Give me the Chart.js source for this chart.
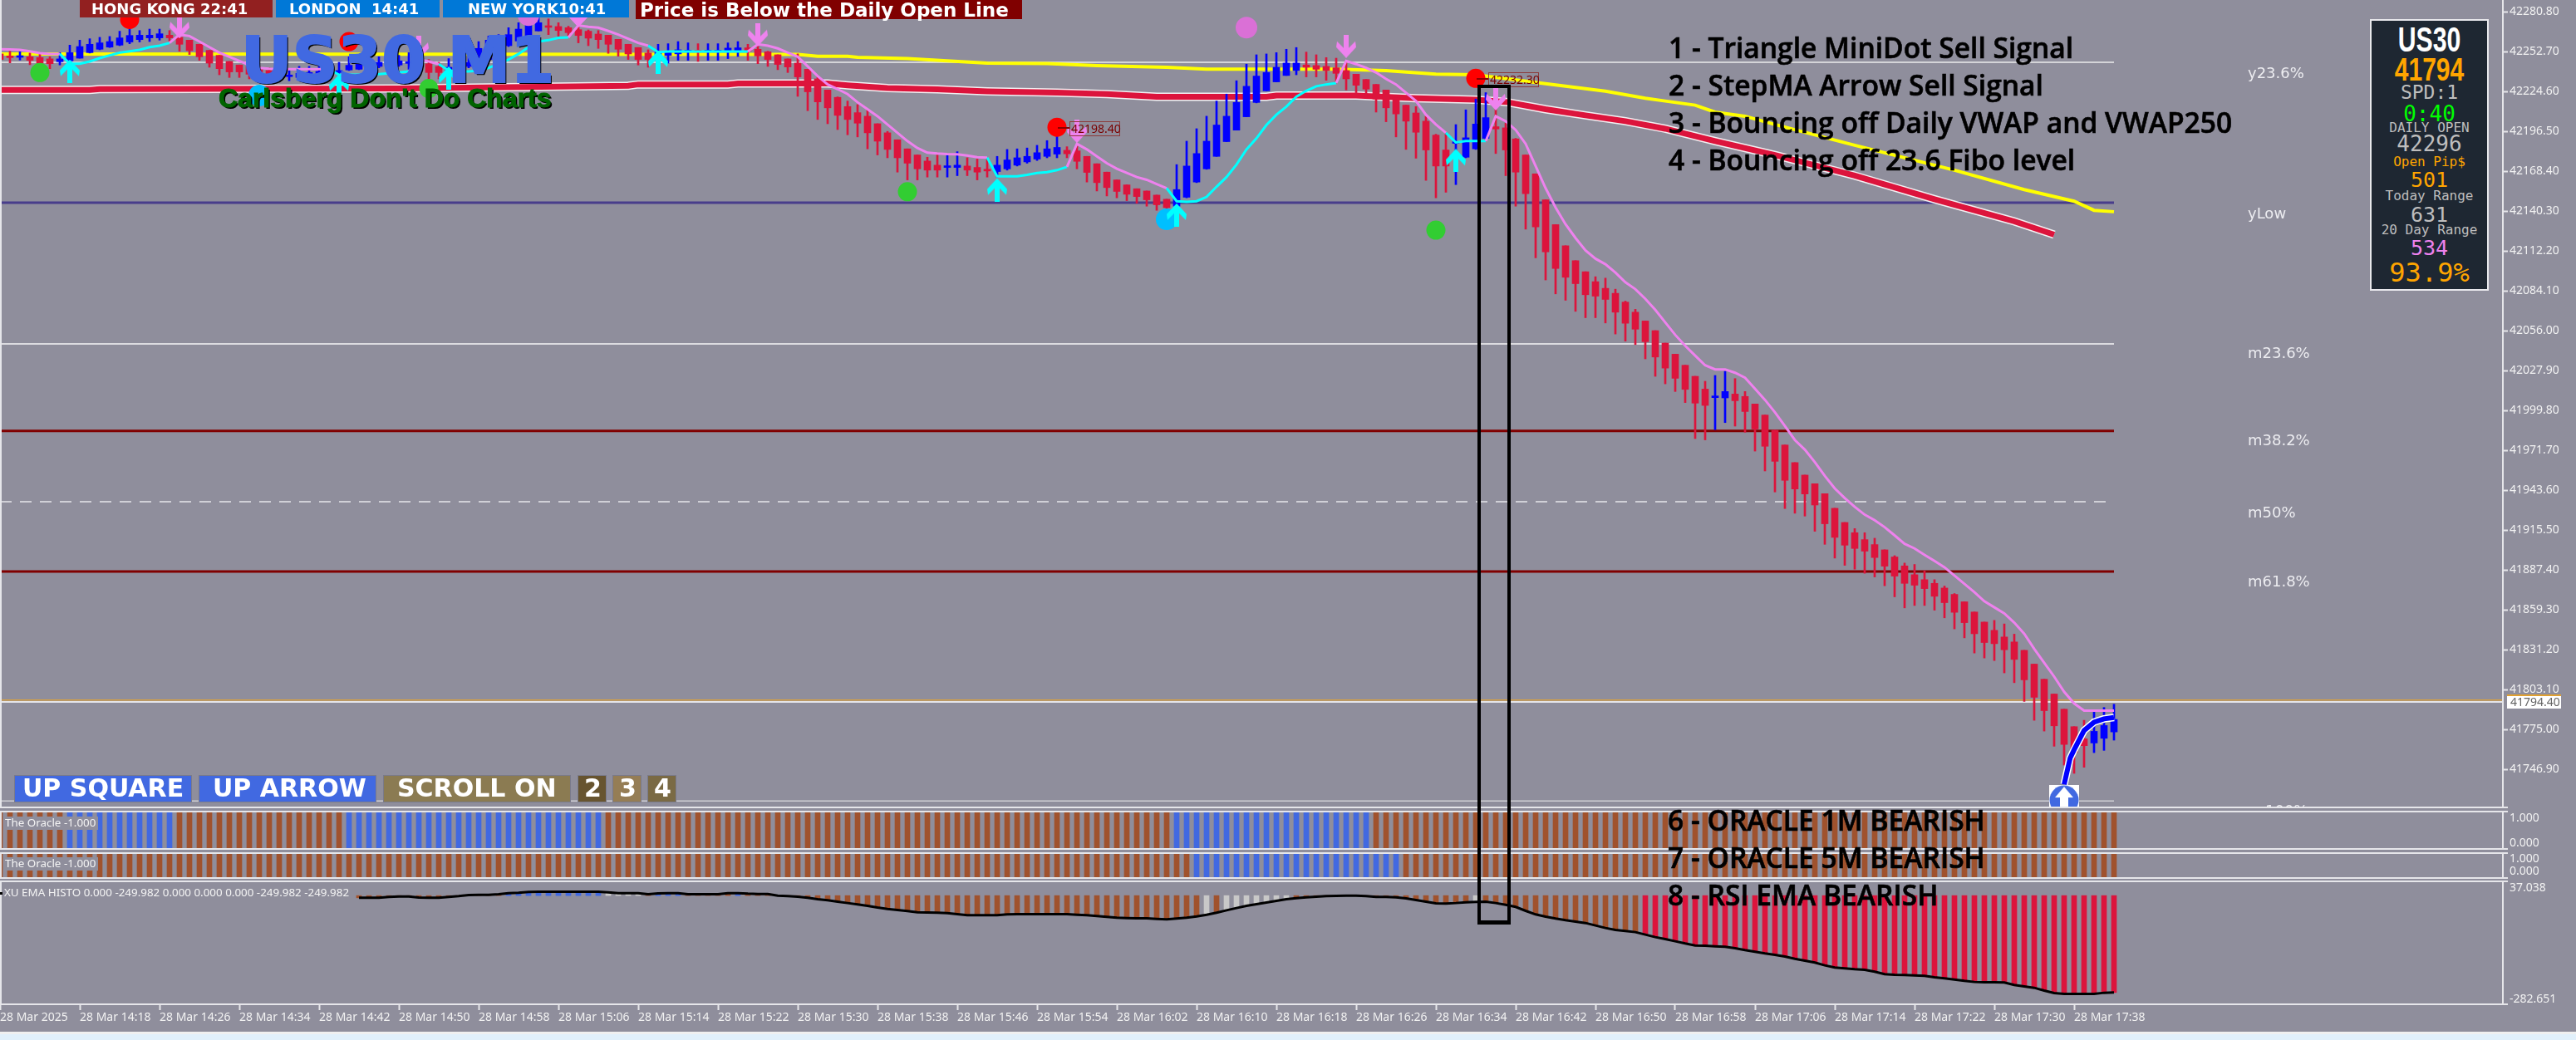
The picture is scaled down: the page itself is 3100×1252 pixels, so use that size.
<!DOCTYPE html>
<html>
<head>
<meta charset="utf-8">
<title>US30 M1</title>
<script src="https://cdn.jsdelivr.net/npm/chart.js@4"></script>
<style>
    body { margin: 0; width: 3100px; height: 1252px; background: #8f8e9c; position: relative; overflow: hidden; }
    canvas { position: absolute; left: 0; }
    .t { position: absolute; white-space: pre; line-height: 1; }
</style>
</head>
<body>
<script>
// Candles, one per minute from 14:10
const opens = [
    42251.0,42249.0,42248.6,42249.0,42248.4,42247.5,42245.5,42246.1,42248.0,42251.9,
    42254.3,42255.8,42257.2,42259.4,42261.1,42262.3,42262.3,42264.2,42262.7,42260.7,
    42257.8,42253.5,42250.0,42245.7,42243.2,42242.2,42240.2,42239.3,42238.7,42235.0,
    42234.4,42234.8,42236.7,42237.3,42237.9,42239.7,42240.2,42241.2,42242.2,42243.2,
    42243.2,42244.3,42247.1,42244.1,42242.2,42239.3,42240.2,42242.2,42243.2,42247.1,
    42255.8,42256.8,42260.1,42263.6,42267.2,42270.5,42270.3,42269.5,42268.1,42267.0,
    42265.0,42264.2,42261.3,42257.8,42255.5,42251.6,42250.6,42250.0,42251.0,42252.5,
    42253.1,42252.5,42252.5,42253.1,42253.1,42255.3,42254.3,42252.5,42250.4,42247.5,
    42244.5,42240.2,42233.4,42225.6,42220.4,42213.9,42209.6,42207.1,42201.8,42195.4,
    42190.5,42184.1,42179.8,42175.5,42172.6,42171.0,42171.0,42172.0,42171.0,42169.7,
    42168.1,42170.0,42172.6,42174.9,42176.9,42178.8,42180.4,42183.1,42182.7,42178.8,
    42173.6,42167.7,42162.2,42158.7,42156.0,42154.4,42151.5,42148.6,42143.7,42150.0,
    42160.7,42170.0,42178.8,42189.2,42197.3,42206.7,42216.8,42225.0,42231.3,42235.8,
    42239.3,42243.2,42242.8,42242.2,42241.2,42239.3,42236.7,42233.0,42229.5,42225.6,
    42219.8,42214.9,42209.4,42203.6,42193.8,42183.3,42188.0,42178.2,42184.1,42191.5,
    42199.7,42198.9,42191.1,42179.8,42166.5,42148.2,42130.7,42115.8,42105.3,42097.5,
    42090.5,42085.8,42082.3,42076.1,42069.0,42062.8,42056.0,42047.2,42039.4,42031.6,
    42023.8,42014.8,42008.8,42008.6,42011.3,42009.6,42004.3,41996.5,41985.8,41975.4,
    41963.0,41954.2,41948.1,41941.1,41930.8,41920.8,41913.6,41908.7,41905.2,41901.5,
    41896.5,41890.2,41884.0,41880.5,41877.9,41874.6,41870.1,41864.9,41857.7,41850.6,
    41844.8,41840.1,41836.6,41830.7,41821.0,41810.3,41799.9,41789.2,41776.9,41768.3,
    41765.4,41768.7,41773.2
];
const highs = [
    42252.9,42252.9,42252.5,42251.6,42251.0,42249.0,42251.9,42257.2,42260.7,42261.7,
    42262.7,42263.3,42267.0,42269.5,42267.5,42268.5,42268.5,42267.5,42267.5,42260.7,
    42257.8,42253.5,42250.0,42245.7,42243.2,42242.2,42242.2,42241.2,42240.2,42239.3,
    42242.2,42242.2,42242.2,42243.8,42245.1,42249.0,42250.0,42247.1,42249.0,42250.0,
    42250.0,42251.9,42249.0,42247.1,42245.1,42247.7,42248.0,42251.9,42259.7,42263.6,
    42264.6,42269.5,42273.0,42277.3,42277.3,42275.7,42273.0,42270.5,42271.4,42267.9,
    42267.5,42264.2,42261.3,42257.8,42255.5,42253.9,42257.8,42258.2,42259.7,42258.8,
    42258.2,42258.2,42258.2,42258.8,42259.7,42257.8,42257.8,42252.9,42250.4,42247.5,
    42251.0,42240.2,42235.4,42225.6,42220.7,42217.8,42215.3,42212.0,42201.8,42196.4,
    42190.5,42184.1,42179.8,42178.2,42179.8,42179.4,42182.1,42177.8,42176.9,42176.9,
    42178.8,42183.7,42184.1,42184.7,42186.6,42189.9,42193.4,42185.6,42186.6,42178.8,
    42173.6,42167.7,42162.2,42158.7,42156.0,42154.4,42151.5,42148.6,42173.0,42189.5,
    42198.3,42207.1,42217.8,42222.7,42232.1,42243.8,42250.4,42251.0,42251.9,42254.3,
    42255.5,42252.3,42250.4,42248.4,42248.0,42246.1,42236.7,42233.0,42229.5,42225.6,
    42219.8,42214.9,42213.9,42207.1,42194.4,42195.4,42201.2,42211.6,42219.2,42223.7,
    42212.0,42202.2,42191.5,42179.8,42166.5,42148.2,42130.7,42115.8,42105.3,42097.5,
    42094.0,42093.0,42085.2,42076.8,42071.0,42062.8,42056.0,42047.2,42039.4,42031.6,
    42023.8,42020.3,42024.4,42027.3,42022.2,42013.1,42004.3,41996.5,41985.8,41975.4,
    41963.0,41954.2,41948.1,41941.1,41930.8,41920.8,41916.5,41913.6,41909.7,41901.5,
    41897.4,41892.2,41891.2,41886.7,41880.5,41876.0,41870.7,41864.9,41857.7,41850.6,
    41851.8,41849.3,41842.1,41830.7,41821.0,41810.3,41799.9,41789.2,41776.9,41781.4,
    41787.3,41790.4,41792.7
];
const lows = [
    42247.1,42244.7,42246.7,42243.4,42241.2,42240.6,42243.2,42245.1,42248.0,42251.6,
    42253.9,42255.5,42256.8,42258.2,42259.4,42259.7,42260.7,42260.1,42252.9,42250.6,
    42246.5,42241.6,42236.3,42234.4,42234.4,42233.4,42233.4,42232.4,42232.1,42232.1,
    42233.4,42234.4,42236.0,42236.7,42236.3,42239.3,42239.9,42240.2,42241.2,42242.2,
    42242.2,42240.2,42239.3,42233.4,42233.4,42236.3,42239.3,42241.2,42242.2,42246.1,
    42255.5,42256.2,42259.7,42263.6,42267.2,42264.6,42263.3,42263.6,42258.8,42256.8,
    42254.9,42251.4,42249.4,42247.1,42243.2,42241.6,42248.0,42244.5,42246.5,42246.5,
    42245.7,42246.5,42246.5,42247.7,42249.2,42246.5,42244.1,42242.2,42239.9,42237.9,
    42221.1,42211.0,42204.8,42201.8,42197.7,42194.0,42192.5,42184.1,42179.8,42177.8,
    42167.7,42162.2,42162.2,42164.2,42164.2,42164.2,42165.2,42165.2,42162.2,42164.2,
    42164.2,42169.1,42172.0,42174.0,42175.9,42177.8,42177.8,42177.8,42170.0,42160.7,
    42154.4,42150.9,42149.6,42147.6,42145.7,42143.7,42140.8,42137.9,42144.7,42149.6,
    42160.3,42169.7,42178.8,42189.2,42197.3,42206.7,42216.5,42225.0,42231.3,42235.8,
    42236.3,42234.8,42234.8,42232.4,42230.5,42225.6,42223.7,42219.8,42210.0,42203.2,
    42192.5,42183.7,42177.5,42161.9,42149.6,42153.5,42158.9,42177.8,42183.7,42191.1,
    42180.8,42165.2,42143.7,42127.5,42107.3,42091.7,42081.9,42077.4,42069.6,42065.1,
    42065.1,42061.4,42053.6,42048.6,42046.2,42036.1,42023.8,42018.5,42013.1,42005.3,
    41979.9,41979.0,41986.2,41991.2,41988.7,41984.4,41971.1,41957.1,41942.3,41930.6,
    41927.3,41925.3,41914.6,41905.4,41895.7,41890.6,41887.9,41885.0,41882.4,41876.2,
    41868.4,41860.6,41862.3,41862.3,41859.0,41853.6,41845.8,41839.5,41828.8,41825.3,
    41823.5,41814.8,41807.9,41794.7,41781.4,41773.8,41763.1,41749.8,41744.0,41748.3,
    41758.6,41760.2,41767.4
];
const closes = [
    42247.1,42248.4,42249.4,42246.5,42244.5,42244.1,42247.5,42251.9,42256.2,42257.8,
    42258.8,42259.7,42262.3,42264.0,42264.2,42264.2,42265.2,42262.3,42257.8,42253.3,
    42249.0,42244.5,42240.6,42238.3,42238.3,42236.7,42237.3,42236.3,42235.4,42236.0,
    42237.3,42237.9,42238.7,42240.2,42239.3,42243.0,42245.7,42243.2,42245.1,42245.1,
    42246.1,42245.3,42243.2,42237.9,42237.9,42241.6,42243.2,42245.1,42254.9,42260.7,
    42262.7,42264.6,42268.5,42272.0,42273.0,42269.7,42267.5,42266.0,42264.0,42262.1,
    42261.1,42257.8,42254.3,42251.0,42247.1,42247.1,42252.3,42252.9,42253.9,42253.3,
    42252.5,42253.3,42253.3,42255.1,42255.3,42253.1,42249.6,42247.1,42243.6,42241.8,
    42234.8,42224.3,42217.2,42213.0,42207.7,42204.8,42202.2,42195.4,42189.5,42183.7,
    42177.8,42174.0,42170.0,42169.1,42169.1,42172.0,42172.6,42169.1,42167.7,42168.5,
    42172.6,42176.3,42177.8,42178.8,42181.4,42184.1,42185.1,42180.6,42175.3,42167.5,
    42160.3,42156.8,42154.1,42152.1,42150.5,42148.2,42144.7,42142.7,42155.4,42172.0,
    42180.8,42189.5,42200.9,42207.1,42216.8,42228.2,42235.4,42237.9,42241.6,42244.5,
    42244.5,42241.6,42240.2,42239.3,42237.3,42233.4,42228.9,42226.2,42219.2,42213.0,
    42208.7,42203.6,42195.8,42183.3,42172.0,42172.0,42188.6,42191.9,42201.6,42206.1,
    42198.1,42183.3,42167.7,42152.5,42129.1,42111.5,42099.8,42093.6,42089.1,42081.3,
    42080.3,42078.0,42069.0,42061.2,42057.0,42048.2,42037.4,42029.6,42022.4,42014.6,
    42004.9,42003.3,42009.4,42013.1,42006.6,41999.0,41986.7,41974.5,41963.9,41950.5,
    41944.4,41940.9,41933.1,41919.9,41910.3,41904.8,41902.5,41900.6,41896.1,41890.0,
    41883.0,41877.9,41876.6,41874.2,41868.8,41864.3,41857.5,41850.2,41842.4,41836.2,
    41835.4,41831.1,41824.3,41809.9,41797.6,41788.2,41777.5,41764.4,41758.6,41763.5,
    41773.6,41777.7,41782.0
];

// Step MA, one reading per candle; cyan while rising, violet while falling
const stepMA = [
    42254.3,42254.1,42253.9,42252.9,42251.6,42251.0,42251.0,42244.1,42244.1,42245.7,
    42248.0,42250.0,42251.9,42252.9,42253.9,42255.8,42256.8,42258.8,42264.6,42263.6,
    42259.7,42255.8,42251.9,42249.0,42246.1,42243.2,42241.2,42240.6,42240.2,42240.2,
    42240.2,42240.2,42240.2,42240.2,42236.3,42236.3,42236.3,42236.5,42236.7,42237.3,
    42237.9,42238.7,42247.1,42245.7,42243.8,42239.3,42238.7,42238.7,42239.3,42241.2,
    42243.8,42247.1,42251.0,42255.8,42259.7,42260.7,42262.3,42262.7,42271.1,42270.1,
    42269.5,42267.2,42264.6,42261.7,42258.8,42256.8,42252.3,42252.7,42252.7,42252.7,
    42252.7,42252.7,42252.7,42252.7,42252.7,42252.7,42257.8,42256.8,42254.9,42251.9,
    42249.0,42242.2,42235.4,42229.5,42226.2,42222.7,42216.9,42212.0,42207.1,42201.3,
    42195.4,42189.6,42184.7,42181.4,42180.8,42180.4,42180.2,42179.4,42178.2,42177.9,
    42164.8,42164.8,42164.8,42165.8,42167.1,42167.7,42169.1,42171.4,42187.6,42183.7,
    42178.8,42174.0,42170.1,42167.1,42164.2,42162.3,42159.3,42156.4,42147.2,42146.7,
    42147.2,42150.2,42157.4,42164.2,42173.0,42183.7,42191.5,42200.9,42208.1,42213.9,
    42220.8,42225.0,42228.2,42229.5,42230.5,42246.1,42243.8,42241.2,42237.9,42233.4,
    42229.5,42223.7,42217.8,42208.1,42201.3,42195.4,42188.6,42189.6,42189.6,42189.6,
    42207.1,42203.6,42197.4,42187.6,42172.0,42156.4,42142.8,42131.0,42121.3,42112.5,
    42106.7,42102.8,42096.9,42090.1,42085.2,42078.4,42070.6,42061.8,42053.0,42045.3,
    42038.4,42031.6,42028.7,42028.7,42026.3,42022.8,42015.0,42007.2,41998.4,41988.7,
    41978.9,41972.1,41963.3,41953.6,41944.8,41938.0,41931.8,41926.3,41922.4,41917.5,
    41911.7,41905.8,41902.5,41898.0,41893.7,41889.2,41883.4,41877.5,41871.7,41865.3,
    41861.0,41856.7,41850.2,41842.4,41831.7,41822.0,41812.2,41801.5,41793.3,41788.2,
    41788.2,41788.2,41788.2
];
const stepCyanRanges = [[6, 17], [33, 41], [44, 57], [65, 75], [99, 107], [117, 134], [145, 149]];

// Slow lines, read at the candles where they bend
const vwapDailyAt = [0,80,82,85,86,91,99,105,110,117,121,134,139,144,148,154,161,165,167,170,172,175,178,186,196,203,208,210,212];
const vwapDaily = [42251.0,42250.6,42249.4,42249.4,42248.6,42247.7,42244.5,42244.2,42242.8,42241.6,42240.2,42240.2,42239.3,42236.7,42236.3,42230.9,42224.7,42219.8,42217.8,42214.9,42210.0,42207.1,42201.3,42186.6,42169.1,42155.4,42147.2,42140.8,42139.8];
const vwap250At = [0,9,10,40,63,64,73,74,83,85,89,94,99,106,111,116,127,128,136,142,148,151,155,159,163,167,172,178,186,194,202,206];
const vwap250 = [42225.6,42225.6,42226.2,42226.6,42228.6,42229.5,42229.5,42230.1,42230.1,42228.9,42227.0,42226.0,42224.6,42223.7,42222.7,42220.8,42220.8,42221.7,42221.7,42219.8,42218.8,42217.2,42212.0,42207.7,42203.6,42198.3,42189.6,42179.8,42165.2,42148.6,42133.0,42123.6];
const bounceAt = [207, 207.6, 208, 209, 210, 211, 212];
const bounceCurve = [41736.2, 41754.7, 41760.6, 41774.2, 41780.1, 41782.4, 41783.4];

// Fibo levels, all end at the last candle
const levelPrices = [42245.1, 42146.2, 42046.6, 41985.4, 41935.4, 41886.2, 41724.6];
const bidPrice = 41794.4;
const askPrice = 41795.6;

// Signals
const greenDotAt = [4, 43, 91, 144];
const greenDot = [42237.9, 42226.6, 42153.9, 42126.8];
const redDotAt = [13, 35, 106, 148];
const redDot = [42275.3, 42259.7, 42199.3, 42233.8];
const skyDotAt = [26, 117];
const skyDot = [42221.7, 42134.4];
const orchidDotAt = [53, 125];
const orchidDot = [42278.3, 42269.5];
const sellArrowAt = [18, 42, 58, 76, 108, 135, 150];
const sellArrow = [42270.1, 42255.5, 42277.9, 42264.6, 42196.4, 42256.4, 42219.4];
const buyArrowAt = [7, 34, 45, 66, 100, 118, 146];
const buyArrow = [42238.9, 42228.5, 42234.0, 42245.3, 42155.2, 42137.5, 42175.9];
const bigUpAt = [207];
const bigUp = [41725.2];

// Oracle panels: candles where the state is bullish, everything else is bearish
const oracle1mBull = [[7, 17], [35, 60], [118, 137]];
const oracle5mBull = [[120, 140]];

// RSI EMA histogram, from candle 36
const rsiStart = 36;
const rsiEma = [
    -5.8,-5.8,-5.8,-3.6,-2.2,-2.2,-5.0,-5.8,-5.8,-3.6,-1.4,1.4,2.2,2.2,3.6,6.5,7.2,9.4,10.1,10.1,
    10.1,10.1,10.1,10.1,10.1,8.6,6.5,6.5,6.5,3.6,5.8,6.5,6.5,3.6,3.6,3.6,3.6,6.5,6.5,5.0,
    4.3,4.3,0,-1.4,-2.9,-5.8,-9.4,-12.2,-15.8,-19.4,-23.0,-26.6,-31.0,-34.6,-37.4,-40.3,-43.2,-43.9,-44.6,-45.4,
    -48.2,-51.1,-51.1,-51.1,-51.1,-49.0,-48.2,-48.2,-48.2,-48.2,-48.2,-48.2,-49.7,-51.1,-53.3,-55.4,-57.6,-58.3,-59.0,-59.0,
    -60.5,-61.9,-59.8,-57.6,-54.0,-49.7,-44.6,-38.2,-32.4,-26.6,-22.3,-18.0,-13.7,-9.4,-6.5,-4.3,-2.9,-1.4,-0.7,0,
    0,-1.4,-3.6,-3.6,-4.3,-7.2,-11.5,-15.8,-20.2,-20.9,-19.4,-17.3,-16.6,-15.8,-19.4,-23.8,-29.5,-39.6,-49.0,-54.7,
    -59.8,-64.1,-67.7,-71.3,-77.8,-84.2,-89.3,-92.2,-95.0,-101.5,-108.0,-113.0,-118.8,-124.6,-129.6,-130.3,-131.8,-133.2,-136.8,-141.8,
    -146.2,-150.5,-154.1,-158.4,-164.2,-169.2,-174.2,-181.4,-187.2,-189.4,-191.5,-193.0,-198.0,-204.5,-205.9,-206.6,-207.4,-208.8,-212.4,-215.3,
    -218.2,-221.8,-224.6,-225.4,-225.4,-226.1,-232.6,-236.2,-239.8,-247.0,-253.4,-255.6,-255.6,-255.6,-255.6,-252.7,-252.0
];
const rsiBlueRanges = [[51, 60], [66, 68], [74, 74]];
const rsiGrayRanges = [[61, 64], [121, 121], [123, 129], [148, 148]];
const rsiRedFrom = 165;

// Axis labels
const priceTicks = [42280.80,42252.70,42224.60,42196.50,42168.40,42140.30,42112.20,42084.10,42056.00,42027.90,41999.80,41971.70,41943.60,41915.50,41887.40,41859.30,41831.20,41803.10,41775.00,41746.90];
const oracleTicks = [1, 0];
const rsiTickLabels = ["37.038", "-282.651"];
const timeLabels = ["28 Mar 2025","28 Mar 14:18","28 Mar 14:26","28 Mar 14:34","28 Mar 14:42","28 Mar 14:50","28 Mar 14:58","28 Mar 15:06","28 Mar 15:14","28 Mar 15:22","28 Mar 15:30","28 Mar 15:38","28 Mar 15:46","28 Mar 15:54","28 Mar 16:02","28 Mar 16:10","28 Mar 16:18","28 Mar 16:26","28 Mar 16:34","28 Mar 16:42","28 Mar 16:50","28 Mar 16:58","28 Mar 17:06","28 Mar 17:14","28 Mar 17:22","28 Mar 17:30","28 Mar 17:38"];

const BG_FONT = "'Noto Sans'";
const LINE = "#e6e6ea";
const CRIMSON = "#DC143C";
const SIENNA = "#A0522D";
const ROYAL = "#4169E1";

// White edges of each panel, with the little stub on the price axis
const panelFrame = {
    id: "panelFrame",
    afterDatasetsDraw(chart, args, opts) {
        const { left, right, top, bottom } = chart.chartArea;
        const ctx = chart.ctx;
        ctx.save();
        ctx.strokeStyle = LINE;
        ctx.lineWidth = 2;
        ctx.beginPath();
        ctx.moveTo(left + 1, top);
        ctx.lineTo(left + 1, bottom);
        ctx.moveTo(right, top);
        ctx.lineTo(right, bottom);
        if (opts.top) {
            ctx.moveTo(left, top);
            ctx.lineTo(right + 6, top);
        }
        ctx.moveTo(left, bottom);
        ctx.lineTo(right + 6, bottom);
        ctx.stroke();
        ctx.restore();
    }
};

function addCanvas(top, height) {
    const c = document.createElement("canvas");
    c.width = 3100;
    c.height = height;
    c.style.top = top + "px";
    document.body.appendChild(c);
    return c;
}

// Arrow icons for the signal points
function arrowIcon(color, up) {
    const c = document.createElement("canvas");
    c.width = 24;
    c.height = 28;
    const g = c.getContext("2d");
    if (!up) {
        g.translate(0, 28);
        g.scale(1, -1);
    }
    g.fillStyle = color;
    g.beginPath();
    g.moveTo(12, 0);
    g.lineTo(24, 13);
    g.lineTo(23, 20);
    g.lineTo(15, 12);
    g.lineTo(15, 28);
    g.lineTo(9, 28);
    g.lineTo(9, 12);
    g.lineTo(1, 20);
    g.lineTo(0, 13);
    g.closePath();
    g.fill();
    return c;
}

function bigUpIcon() {
    const c = document.createElement("canvas");
    c.width = 36;
    c.height = 36;
    const g = c.getContext("2d");
    g.fillStyle = "#fff";
    g.fillRect(0, 0, 36, 36);
    g.fillStyle = ROYAL;
    g.beginPath();
    g.arc(18, 18, 17.5, 0, Math.PI * 2);
    g.fill();
    g.fillStyle = "#fff";
    g.beginPath();
    g.moveTo(18, 2);
    g.lineTo(29, 15);
    g.lineTo(23, 15);
    g.lineTo(23, 36);
    g.lineTo(13, 36);
    g.lineTo(13, 15);
    g.lineTo(7, 15);
    g.closePath();
    g.fill();
    return c;
}

const inRanges = (i, ranges) => ranges.some(r => i >= r[0] && i <= r[1]);
const pairs = (xs, ys) => xs.map((x, k) => ({ x: x, y: ys[k] }));

function lineSet(data, color, width, extra) {
    return Object.assign({
        type: "line",
        data: data,
        borderColor: color,
        borderWidth: width,
        pointRadius: 0,
        tension: 0,
        clip: 0
    }, extra || {});
}

function levelSet(price, color, width, dash) {
    return lineSet([{ x: 0, y: price }, { x: 212, y: price }], color, width, { borderDash: dash || [] });
}

function dotSet(xs, ys, color, radius) {
    return {
        type: "scatter",
        data: pairs(xs, ys),
        backgroundColor: color,
        borderWidth: 0,
        pointRadius: radius,
        clip: 0
    };
}

function iconSet(xs, ys, icon) {
    return {
        type: "scatter",
        data: pairs(xs, ys),
        pointStyle: icon,
        pointRadius: 10,
        clip: 0
    };
}

function candleSet(candleIdx, low, high, width) {
    return {
        type: "bar",
        data: candleIdx.map(i => ({ x: i, y: [low[i], high[i]] })),
        backgroundColor: candleIdx.map(i => closes[i] >= opens[i] ? "#0000FF" : CRIMSON),
        barThickness: width,
        grouped: false,
        borderWidth: 0,
        minBarLength: 2,
        clip: 0
    };
}

function baseOptions(xScale, yScale, framePlugin, padding) {
    return {
        responsive: false,
        animation: false,
        devicePixelRatio: 1,
        layout: { padding: padding, autoPadding: false },
        plugins: { legend: { display: false }, tooltip: { enabled: false }, panelFrame: framePlugin },
        scales: { x: xScale, y: yScale }
    };
}

function hiddenX() {
    return { type: "linear", min: 0, max: 251, offset: false, display: false, grid: { offset: false } };
}

// y axis on the right, 88px wide, no room kept for half labels
function rightAxis(min, max, tickValues, showMarks, labelOf) {
    return {
        type: "linear",
        position: "right",
        min: min,
        max: max,
        border: { display: false },
        grid: { drawOnChartArea: false, drawTicks: showMarks, tickLength: 6, color: LINE, tickWidth: 2 },
        ticks: {
            color: "#f2f2f2",
            padding: showMarks ? 2 : 8,
            autoSkip: false,
            font: { family: BG_FONT, size: 14 },
            callback: labelOf
        },
        afterBuildTicks(scale) {
            scale.ticks = tickValues.map(v => ({ value: v }));
        },
        afterFit(scale) {
            scale.width = 88;
            scale.paddingTop = 0;
            scale.paddingBottom = 0;
        }
    };
}

// ---- main price panel ----
const candleIdx = opens.map((v, i) => i);
const bodyTop = opens.map((v, i) => Math.max(v, closes[i]));
const bodyBottom = opens.map((v, i) => Math.min(v, closes[i]));

const mainSets = [
    levelSet(levelPrices[0], "#d4d4d8", 2),
    levelSet(levelPrices[1], "#483D8B", 3),
    levelSet(levelPrices[2], "#dcdce0", 2),
    levelSet(levelPrices[3], "#800000", 3),
    levelSet(levelPrices[4], "#e6e6ea", 1.5, [14, 10]),
    levelSet(levelPrices[5], "#800000", 3),
    levelSet(levelPrices[6], "#cfcfd4", 1.5),
    lineSet([{ x: 0, y: askPrice }, { x: 251, y: askPrice }], "#D8A040", 1.5),
    lineSet([{ x: 0, y: bidPrice }, { x: 251, y: bidPrice }], "#e4e4e8", 2),
    lineSet(pairs(vwapDailyAt, vwapDaily), "#FFFF00", 4),
    lineSet(pairs(vwap250At, vwap250), "#f2f0f2", 10),
    lineSet(pairs(vwap250At, vwap250), CRIMSON, 7),
    candleSet(candleIdx, lows, highs, 2),
    candleSet(candleIdx, bodyBottom, bodyTop, 8),
    lineSet(stepMA.map((v, i) => ({ x: i, y: v })), "#EE82EE", 3, {
        segment: { borderColor: c => inRanges(c.p0DataIndex, stepCyanRanges.map(r => [r[0], r[1] - 1])) ? "#00FFFF" : undefined }
    }),
    lineSet(pairs(bounceAt, bounceCurve), "#ffffff", 9),
    lineSet(pairs(bounceAt, bounceCurve), "#0000FF", 6),
    dotSet(greenDotAt, greenDot, "#32CD32", 11.5),
    dotSet(redDotAt, redDot, "#FF0000", 11.5),
    dotSet(skyDotAt, skyDot, "#00BFFF", 13),
    dotSet(orchidDotAt, orchidDot, "#DA70D6", 13),
    iconSet(sellArrowAt, sellArrow, arrowIcon("#EE82EE", false)),
    iconSet(buyArrowAt, buyArrow, arrowIcon("#00FFFF", true)),
    iconSet(bigUpAt, bigUp, bigUpIcon())
];
// lower order is drawn on top, so keep the list order as bottom to top
mainSets.forEach((d, k) => { d.order = mainSets.length - k; });

new Chart(addCanvas(0, 973), {
    type: "bar",
    data: { datasets: mainSets },
    options: baseOptions(hiddenX(),
        rightAxis(41720.0, 42289.0, priceTicks, true, v => v.toFixed(2)),
        { top: false }, { bottom: 1 }),
    plugins: [panelFrame]
});

// ---- oracle panels ----
function oraclePanel(top, height, bullRanges, yMin, yMax) {
    const bars = {
        type: "bar",
        data: candleIdx.map(i => ({ x: i, y: [yMin, yMax] })),
        backgroundColor: candleIdx.map(i => inRanges(i, bullRanges) ? ROYAL : SIENNA),
        barThickness: 6,
        borderWidth: 0,
        grouped: false
    };
    new Chart(addCanvas(top, height), {
        type: "bar",
        data: { datasets: [bars] },
        options: baseOptions(hiddenX(),
            rightAxis(yMin, yMax, oracleTicks, false, v => v.toFixed(3)),
            { top: true }, { top: 1, bottom: 1 }),
        plugins: [panelFrame]
    });
}
oraclePanel(976, 47, oracle1mBull, -0.233, 1.267);
oraclePanel(1026, 32, oracle5mBull, -0.533, 1.467);

// ---- RSI EMA panel ----
function rsiColor(i) {
    if (i >= rsiRedFrom) return CRIMSON;
    if (inRanges(i, rsiBlueRanges)) return ROYAL;
    if (inRanges(i, rsiGrayRanges)) return "#c8c8c8";
    return SIENNA;
}
const rsiPoints = rsiEma.map((v, k) => ({ x: rsiStart + k, y: v }));

new Chart(addCanvas(1060, 182), {
    type: "bar",
    data: {
        datasets: [
            lineSet(rsiPoints, "#000000", 3, { order: 1 }),
            {
                type: "bar",
                order: 2,
                data: rsiPoints,
                backgroundColor: rsiPoints.map(p => rsiColor(p.x)),
                barThickness: 6,
                borderWidth: 0,
                grouped: false
            }
        ]
    },
    options: baseOptions({
        type: "linear",
        min: 0,
        max: 251,
        offset: false,
        border: { display: false },
        grid: { offset: false, drawOnChartArea: false, tickLength: 7, color: LINE, tickWidth: 2 },
        ticks: {
            color: "#f2f2f2",
            padding: 1,
            align: "start",
            maxRotation: 0,
            autoSkip: false,
            font: { family: BG_FONT, size: 14 },
            callback: (v, idx) => timeLabels[idx]
        },
        afterBuildTicks(scale) {
            scale.ticks = timeLabels.map((t, k) => ({ value: k * 8 }));
        },
        afterFit(scale) {
            scale.height = 33;
            scale.paddingLeft = 0;
            scale.paddingRight = 0;
        }
    }, rightAxis(-282.651, 37.038, [19.7, -269.7], false, (v, idx) => rsiTickLabels[idx]),
    { top: true }, { top: 1 }),
    plugins: [panelFrame]
});

// ---- text on top of the chart ----
function put(text, x, y, css) {
    const d = document.createElement("div");
    d.className = "t";
    d.textContent = text;
    d.style.cssText = `left:${x}px;top:${y}px;transform:translateY(-50%);${css || ""}`;
    document.body.appendChild(d);
    return d;
}
function box(x, y, w, h, css) {
    const d = document.createElement("div");
    d.style.cssText = `position:absolute;box-sizing:border-box;left:${x}px;top:${y}px;width:${w}px;height:${h}px;${css}`;
    document.body.appendChild(d);
    return d;
}

// session clocks
const BOLD = "font-family:'DejaVu Sans';font-weight:bold;color:#fff;";
box(96, 0, 232, 21, "background:#922020");
box(332, 0, 197, 21, "background:#0078D7");
box(533, 0, 224, 21, "background:#0078D7");
box(765, 0, 465, 23, "background:#800000");
put("HONG KONG 22:41", 110, 11, BOLD + "font-size:18px");
put("LONDON  14:41", 348, 11, BOLD + "font-size:18px");
put("NEW YORK10:41", 563, 11, BOLD + "font-size:18px");
put("Price is Below the Daily Open Line", 770, 12, BOLD + "font-size:23px");

// title
put("US30 M1", 290, 73, "font-family:'DejaVu Sans';font-weight:bold;font-size:76px;color:#4169E1;text-shadow:2px 2px 0 #000;-webkit-text-stroke:2px #4169E1");
put("Carlsberg Don't Do Charts", 263, 118, "font-family:'Liberation Sans';font-weight:bold;font-size:32px;color:#006400;text-shadow:2px 2px 0 #000;-webkit-text-stroke:1px #006400");

// numbered notes
const NOTE = "font-family:'Open Sans';font-weight:600;font-size:33.6px;color:#000;-webkit-text-stroke:0.6px #000;";
put("1 - Triangle MiniDot Sell Signal", 2008, 58, NOTE);
put("2 - StepMA Arrow Sell Signal", 2008, 103, NOTE);
put("3 - Bouncing off Daily VWAP and VWAP250", 2008, 148, NOTE);
put("4 - Bouncing off 23.6 Fibo level", 2008, 193, NOTE);
put("6 - ORACLE 1M BEARISH", 2007, 988, NOTE);
put("7 - ORACLE 5M BEARISH", 2007, 1033, NOTE);
put("8 - RSI EMA BEARISH", 2007, 1078, NOTE);

// fibo names
const FIBO = "font-family:'DejaVu Sans';font-size:18px;color:#ececf0;";
put("y23.6%", 2705, 88, FIBO);
put("yLow", 2705, 257, FIBO);
put("m23.6%", 2705, 425, FIBO);
put("m38.2%", 2705, 530, FIBO);
put("m50%", 2705, 617, FIBO);
put("m61.8%", 2705, 700, FIBO);
const clipped = box(2726, 963, 60, 9, "overflow:hidden");
const hundred = document.createElement("div");
hundred.textContent = "100%";
hundred.style.cssText = FIBO + "line-height:26px";
clipped.appendChild(hundred);

// price tags next to the red dots
const TAG = "font-family:'Noto Sans';font-size:14px;color:#7a0000;";
box(1273, 153, 14, 2, "background:#8b0000");
box(1287, 146, 61, 18, "border:1px solid #8b3a3a");
put("42198.40", 1289, 155, TAG);
box(1777, 94, 14, 2, "background:#8b0000");
box(1791, 87, 61, 18, "border:1px solid #8b3a3a");
put("42232.30", 1793, 96, TAG);

// current price tag
box(3017, 836, 65, 17, "background:#fff;border-top:2px solid #E0A030");
put("41794.40", 3021, 845, "font-family:'Noto Sans';font-size:14px;color:#666");

// buttons
box(17, 933, 214, 33, "background:#4169E1;border:1px solid #7a7a8a");
box(239, 933, 214, 33, "background:#4169E1;border:1px solid #7a7a8a");
box(461, 933, 226, 33, "background:#8B7B52;border:1px solid #7a7a8a");
box(695, 933, 35, 33, "background:#67542F;border:1px solid #7a7a8a");
box(737, 933, 35, 33, "background:#957D55;border:1px solid #7a7a8a");
box(779, 933, 35, 33, "background:#7A6A44;border:1px solid #7a7a8a");
const BTN = "font-family:'DejaVu Sans';font-weight:bold;font-size:30px;color:#fff;";
put("UP SQUARE", 27, 949, BTN);
put("UP ARROW", 256, 949, BTN);
put("SCROLL ON", 478, 949, BTN);
put("2", 703, 949, BTN);
put("3", 745, 949, BTN);
put("4", 787, 949, BTN);

// indicator names
const IND = "font-family:'Noto Sans';font-size:13.4px;color:#f4f4f4;";
box(4, 983, 114, 16, "background:#8f8e9c");
put("The Oracle -1.000", 6, 991, IND);
box(4, 1032, 114, 16, "background:#8f8e9c");
put("The Oracle -1.000", 6, 1040, IND);
box(0, 1074, 3, 3, "background:#000");
put("XU EMA HISTO 0.000 -249.982 0.000 0.000 0.000 -249.982 -249.982", 5, 1075, IND);

// the black highlight box across all panels
box(1778, 102, 40, 1011, "border:4px solid #000;border-bottom-width:5px");

// symbol panel
box(2852, 23, 143, 327, "background:#1E2732;border:2px solid #e8e8ec");
function panelLine(text, y, css) {
    const d = put(text, 2852, y, "width:143px;text-align:center;" + css);
    return d;
}
const MONO = "font-family:'DejaVu Sans Mono';";
panelLine("US30", 48, "font-family:'Liberation Sans';font-weight:bold;font-size:42px;color:#fff;transform:translateY(-50%) scaleX(.72)");
panelLine("41794", 83, "font-family:'Liberation Sans';font-weight:bold;font-size:39px;color:#FFA500;transform:translateY(-50%) scaleX(.77)");
panelLine("SPD:1", 111, MONO + "font-size:23px;color:#bebebe");
panelLine("0:40", 137, MONO + "font-size:26px;color:#00FF00");
panelLine("DAILY OPEN", 154, MONO + "font-size:16px;color:#bebebe");
panelLine("42296", 173, MONO + "font-size:26px;color:#bebebe");
panelLine("Open Pip$", 195, MONO + "font-size:16px;color:#FFA500");
panelLine("501", 216, MONO + "font-size:25px;color:#FFA500");
panelLine("Today Range", 236, MONO + "font-size:16px;color:#bebebe");
panelLine("631", 258, MONO + "font-size:25px;color:#bebebe");
panelLine("20 Day Range", 277, MONO + "font-size:16px;color:#bebebe");
panelLine("534", 298, MONO + "font-size:25px;color:#EE82EE");
panelLine("93.9%", 328, MONO + "font-size:32px;color:#FFA500");

// window bottom edge
box(0, 1242, 3100, 3, "background:#f0f0f0");
box(0, 1245, 3100, 7, "background:#E1F0FB");
</script>
</body>
</html>
